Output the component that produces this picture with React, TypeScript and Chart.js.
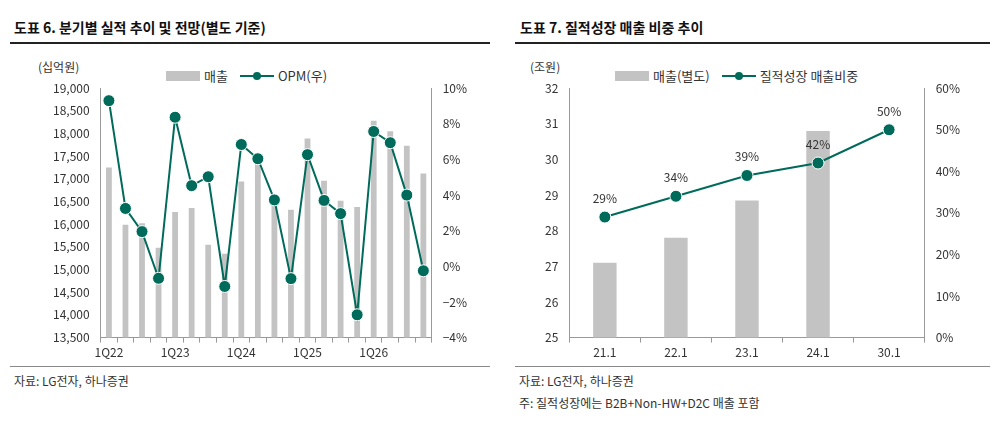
import React, { useEffect, useRef } from "react";
import { Chart, registerables } from "chart.js";
Chart.register(...registerables);

const quarters = ["1Q22","2Q22","3Q22","4Q22","1Q23","2Q23","3Q23","4Q23","1Q24","2Q24","3Q24","4Q24","1Q25","2Q25","3Q25","4Q25","1Q26","2Q26","3Q26","4Q26"];
const sales = [17250,15990,16020,15480,16270,16360,15550,15350,16940,17430,16450,16320,17890,16960,16520,16380,18280,18050,17730,17120];
const opm = [9.3,3.25,1.95,-0.67,8.37,4.53,5.03,-1.13,6.84,6.04,3.73,-0.69,6.27,3.7,2.96,-2.72,7.57,6.94,4.0,-0.25];

const years = ["21.1","22.1","23.1","24.1","30.1"];
const qualSales = [27.1,27.8,28.85,30.8,null];
const qualShare = [29,34,39,42,50];

const GREEN = "#006b5a";
const GREY = "#c3c3c3";
const FONT = "'Noto Sans CJK KR', 'Noto Sans', sans-serif";
const TICK = { color: "#333", font: { family: FONT, size: 12 } };

const labelPlugin = {
  id: "lbl",
  afterDatasetsDraw(chart: any) {
    if (chart.canvas.dataset.lbl !== "1") return;
    const meta = chart.getDatasetMeta(1);
    const ctx = chart.ctx;
    ctx.save();
    ctx.font = `12px ${FONT}`;
    ctx.fillStyle = "#333";
    ctx.textAlign = "center";
    meta.data.forEach((p: any, i: number) => {
      ctx.fillText(qualShare[i] + "%", p.x, p.y - 14);
    });
    ctx.restore();
  },
};

function useChart(ref: any, cfg: () => any) {
  useEffect(() => {
    const c = new Chart(ref.current, cfg());
    return () => c.destroy();
  }, []);
}

const axisBase = { grid: { display: false }, border: { color: "#999" } };

export default function App() {
  const r1 = useRef<HTMLCanvasElement>(null);
  const r2 = useRef<HTMLCanvasElement>(null);
  useChart(r1, () => ({
    data: {
      labels: quarters,
      datasets: [
        { type: "bar", data: sales, backgroundColor: GREY, yAxisID: "y", barPercentage: 0.35, categoryPercentage: 1, order: 2 },
        { type: "line", data: opm, borderColor: GREEN, backgroundColor: GREEN, pointBorderColor: "#fff", pointBorderWidth: 1, pointRadius: 6, borderWidth: 2, tension: 0, yAxisID: "y1", order: 1 },
      ],
    },
    options: {
      animation: false, responsive: true, maintainAspectRatio: false,
      plugins: { legend: { display: false }, tooltip: { enabled: false } },
      layout: { padding: { top: 8, right: 4 } },
      scales: {
        x: { ...axisBase, grid: { display: true, drawOnChartArea: false, offset: true, tickLength: 5, color: "#999" }, ticks: { ...TICK, maxRotation: 0, autoSkip: false, callback: (_v: any, i: number) => (i % 4 === 0 ? quarters[i] : "") } },
        y: { ...axisBase, min: 13500, max: 19000, ticks: { ...TICK, stepSize: 500, callback: (v: number) => v.toLocaleString("en-US") } },
        y1: { ...axisBase, position: "right", min: -4, max: 10, ticks: { ...TICK, stepSize: 2, callback: (v: number) => (v < 0 ? "−" + -v : v) + "%" } },
      },
    },
  }));
  useChart(r2, () => ({
    data: {
      labels: years,
      datasets: [
        { type: "bar", data: qualSales, backgroundColor: GREY, yAxisID: "y", barPercentage: 0.33, categoryPercentage: 1, order: 2 },
        { type: "line", data: qualShare, borderColor: GREEN, backgroundColor: GREEN, pointBorderColor: "#fff", pointBorderWidth: 1, pointRadius: 6, borderWidth: 2, yAxisID: "y1", order: 1 },
      ],
    },
    options: {
      animation: false, responsive: true, maintainAspectRatio: false,
      plugins: { legend: { display: false }, tooltip: { enabled: false } },
      layout: { padding: { top: 8, right: 4 } },
      scales: {
        x: { ...axisBase, grid: { display: true, drawOnChartArea: false, offset: true, tickLength: 5, color: "#999" }, ticks: { ...TICK, maxRotation: 0 } },
        y: { ...axisBase, min: 25, max: 32, ticks: { ...TICK, stepSize: 1 } },
        y1: { ...axisBase, position: "right", min: 0, max: 60, ticks: { ...TICK, stepSize: 10, callback: (v: number) => v + "%" } },
      },
    },
    plugins: [labelPlugin],
  }));

  const txt: React.CSSProperties = { position: "absolute", fontFamily: FONT, color: "#333", fontSize: 12, whiteSpace: "nowrap" };
  const title: React.CSSProperties = { ...txt, fontWeight: 700, fontSize: 14, color: "#111", top: 17 };
  const Leg = ({ left, a, b }: { left: number; a: string; b: string }) => (
    <div style={{ ...txt, top: 66, left, display: "flex", alignItems: "center", fontSize: 13 }}>
      <span style={{ width: 34, height: 10, background: GREY, display: "inline-block", marginRight: 4 }} />
      {a}
      <span style={{ position: "relative", width: 34, height: 10, display: "inline-block", margin: "0 4px 0 12px" }}>
        <span style={{ position: "absolute", top: 4, left: 0, width: 34, height: 2, background: GREEN }} />
        <span style={{ position: "absolute", top: 1, left: 13, width: 8, height: 8, borderRadius: 4, background: GREEN }} />
      </span>
      {b}
    </div>
  );
  return (
    <div style={{ position: "relative", width: 1002, height: 425, margin: -8, background: "#fff" }}>
      <div style={{ ...title, left: 14 }}>도표 6. 분기별 실적 추이 및 전망(별도 기준)</div>
      <div style={{ ...title, left: 520 }}>도표 7. 질적성장 매출 비중 추이</div>
      <div style={{ position: "absolute", left: 10, top: 42, width: 480, height: 2, background: "#222" }} />
      <div style={{ position: "absolute", left: 515, top: 42, width: 475, height: 2, background: "#222" }} />
      <div style={{ position: "absolute", left: 10, top: 366, width: 480, height: 1, background: "#888" }} />
      <div style={{ position: "absolute", left: 515, top: 366, width: 475, height: 1, background: "#888" }} />
      <div style={{ ...txt, left: 38, top: 58 }}>(십억원)</div>
      <div style={{ ...txt, left: 530, top: 58 }}>(조원)</div>
      <Leg left={166} a="매출" b="OPM(우)" />
      <Leg left={615} a="매출(별도)" b="질적성장 매출비중" />
      <div style={{ position: "absolute", left: 50, top: 78, width: 424, height: 285 }}>
        <canvas ref={r1} />
      </div>
      <div style={{ position: "absolute", left: 542, top: 78, width: 425, height: 285 }}>
        <canvas ref={r2} data-lbl="1" />
      </div>
      <div style={{ ...txt, left: 14, top: 372 }}>자료: LG전자, 하나증권</div>
      <div style={{ ...txt, left: 519, top: 372 }}>자료: LG전자, 하나증권</div>
      <div style={{ ...txt, left: 519, top: 394 }}>주: 질적성장에는 B2B+Non-HW+D2C 매출 포함</div>
    </div>
  );
}
